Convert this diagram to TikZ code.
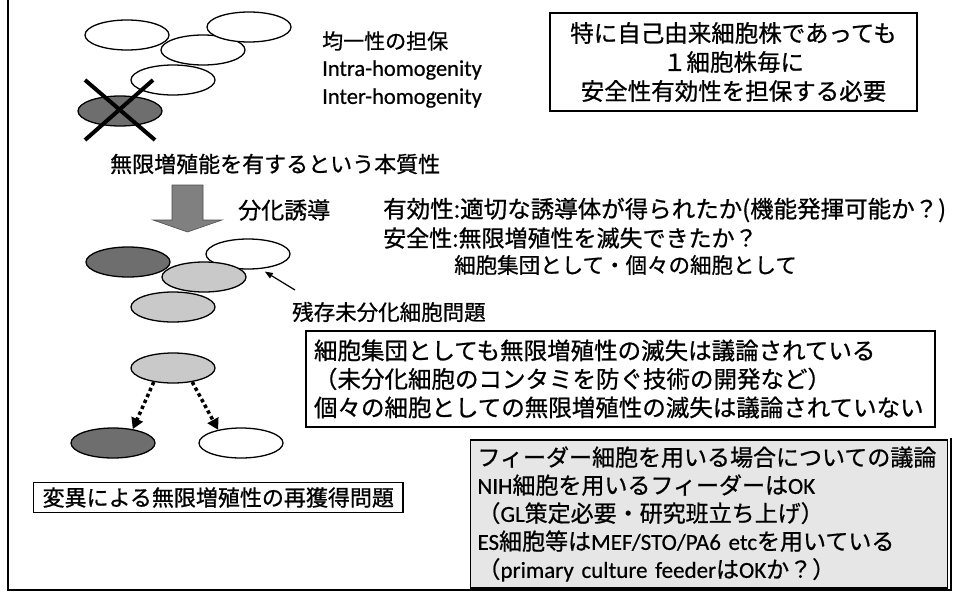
\documentclass[tikz,border=0pt]{standalone}
\usepackage{fontspec}
\setmainfont{Noto Sans CJK JP}[FakeBold=0.8]
\newfontfamily\latin{Carlito}[FakeBold=0.5]
\usetikzlibrary{shapes.geometric,arrows.meta}
\definecolor{darkcell}{HTML}{6E6E6E}
\definecolor{lightcell}{HTML}{C9C9C9}
\definecolor{arrowgray}{HTML}{808080}
\definecolor{feederfill}{HTML}{E6E6E6}
\begin{document}
\begin{tikzpicture}[x=1pt,y=-1pt,
  cell/.style={ellipse,draw=black,line width=1.3pt,minimum width=84pt,minimum height=30pt,inner sep=0pt},
  whitecell/.style={cell,fill=white},
  darkcellst/.style={cell,fill=darkcell},
  lightcellst/.style={cell,fill=lightcell},
  txt/.style={anchor=west,inner sep=0pt,font=\fontsize{22}{26}\selectfont},
  boxed/.style={draw=black,line width=1.2pt,fill=white},
  dotarrow/.style={line width=3.5pt,dash pattern=on 3.5pt off 3pt,-{Triangle[length=11pt,width=12pt]}},
  pointer/.style={line width=1.2pt,-{Triangle[length=8pt,width=6pt]}},
  frameline/.style={line width=1.6pt}
]
\useasboundingbox (0,0) rectangle (960,592);

% outer frame
\draw[frameline] (8,0) -- (8,590) -- (951,590) -- (951,438);

% homogeneous cell line at the top
\node[whitecell] (e1) at (127,35) {};
\node[whitecell] (e3) at (203,50) {};
\node[whitecell] (e2) at (249,27) {};
\node[whitecell] (e4) at (173,80) {};
\node[darkcellst] (ex) at (120,111) {};
\draw[line width=4pt] (85,80) -- (155,140);
\draw[line width=4pt] (153,80) -- (85,140);

\node[txt,font=\fontsize{21}{25}\selectfont] (homog) at (322,41) {均一性の担保};
\node[txt,font=\latin\fontsize{22.5}{26}\selectfont] (intra) at (322,70) {Intra-homogenity};
\node[txt,font=\latin\fontsize{22.5}{26}\selectfont] (inter) at (322,98) {Inter-homogenity};

\node[boxed,minimum width=367pt,minimum height=98pt,align=center,
      font=\fontsize{23.5}{29}\selectfont] (req) at (733.5,62)
  {特に自己由来細胞株であっても\\１細胞株毎に\\安全性有効性を担保する必要};

\node[txt,font=\fontsize{22}{26}\selectfont] (essence) at (110,164) {無限増殖能を有するという本質性};

% differentiation arrow
\fill[arrowgray,draw=black!70,line width=0.6pt] (172,185) -- (203,185) -- (203,220) -- (222,220)
  -- (187.5,232) -- (153,220) -- (172,220) -- cycle;
\node[txt,font=\fontsize{23}{26}\selectfont] (induce) at (238,210) {分化誘導};

\node[txt,font=\fontsize{23.5}{26}\selectfont] (eff) at (383,210) {有効性:適切な誘導体が得られたか(機能発揮可能か？)};
\node[txt,font=\fontsize{23}{26}\selectfont] (safe) at (383,238) {安全性:無限増殖性を滅失できたか？};
\node[txt,font=\fontsize{21.5}{26}\selectfont] (safe2) at (454,265) {細胞集団として・個々の細胞として};

% differentiated population
\node[whitecell] (mw) at (248,254) {};
\node[darkcellst] (md) at (128,262) {};
\node[lightcellst] (mg1) at (204,277) {};
\node[lightcellst] (mg2) at (173,307) {};
\coordinate (ptrtail) at (295,290);
\draw[pointer,shorten >=5pt] (ptrtail) -- (mw.-50);
\node[txt,font=\fontsize{21.5}{26}\selectfont] (residual) at (292,312) {残存未分化細胞問題};

\node[boxed,minimum width=629pt,minimum height=96pt,align=left,text width=613pt,
      font=\fontsize{23.5}{28.5}\selectfont] (popbox) at (620.5,379)
  {細胞集団としても無限増殖性の滅失は議論されている\\
   （未分化細胞のコンタミを防ぐ技術の開発など）\\
   個々の細胞としての無限増殖性の滅失は議論されていない};

% reacquisition by mutation
\node[lightcellst] (bt) at (173,368) {};
\node[darkcellst] (b1) at (113,443) {};
\node[whitecell] (b2) at (241,443) {};
\draw[dotarrow] (bt.216) -- (b1.35);
\draw[dotarrow] (bt.324) -- (b2.150);

\node[boxed,inner xsep=9pt,inner ysep=5pt,font=\fontsize{22}{26}\selectfont,anchor=west] (mutbox) at (33,497.5)
  {変異による無限増殖性の再獲得問題};

% feeder discussion
\node[draw=black,line width=1.2pt,fill=feederfill,minimum width=477pt,minimum height=148pt,
      align=left,text width=463pt,font=\fontsize{23}{28}\selectfont] (feeder) at (709,514)
  {フィーダー細胞を用いる場合についての議論\\
   {\latin NIH}細胞を用いるフィーダーは{\latin OK}\\
   （{\latin GL}策定必要・研究班立ち上げ）\\
   {\latin ES}細胞等は{\latin MEF/STO/PA6 etc}を用いている\\
   （{\latin primary culture feeder}は{\latin OK}か？）};
\end{tikzpicture}
\end{document}
